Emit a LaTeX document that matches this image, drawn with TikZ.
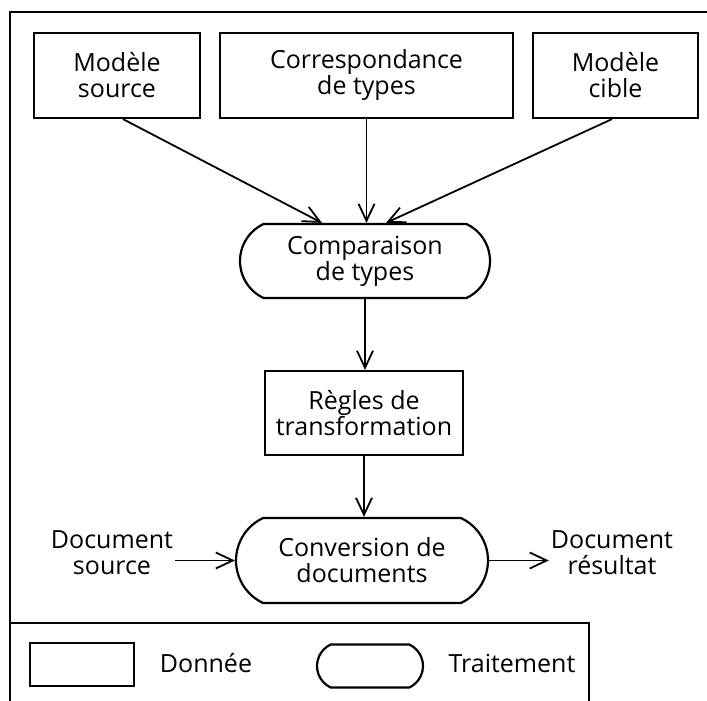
\documentclass[tikz,border=0pt]{standalone}
\usepackage{fontspec}
\setmainfont{Open Sans}
\usetikzlibrary{arrows.meta,shapes.misc}
\begin{document}
\begin{tikzpicture}[x=1pt,y=-1pt,
  every node/.style={font=\fontsize{25}{26}\selectfont, align=center, inner sep=0pt},
  datum/.style={draw, line width=2.2pt, rectangle},
  process/.style={draw, line width=2.2pt, rounded rectangle, rounded rectangle arc length=130},
  flow/.style={line width=1.8pt, -{Straight Barb[length=17pt,width=16pt,line width=1.8pt]}},
  frame/.style={line width=2.2pt}]
\useasboundingbox (0,0) rectangle (707,701);

% outer frame: top and left edges
\coordinate (ftl) at (10,12);
\coordinate (ftr) at (707,12);
\coordinate (fbl) at (10,701);
\draw[frame] (ftr) -- (ftl) -- (fbl);

% data and processing steps
\node[datum, minimum width=166pt, minimum height=85pt] (ms) at (117,75.5) {Modèle\\source};
\node[datum, minimum width=293pt, minimum height=85pt] (ct) at (366.5,75.5) {Correspondance\\de types};
\node[datum, minimum width=165pt, minimum height=85pt] (mc) at (615.5,75.5) {Modèle\\cible};
\node[process, minimum width=250pt, minimum height=74pt] (comp) at (365,261) {Comparaison\\de types};
\node[datum, minimum width=198pt, minimum height=84pt] (rt) at (364,413) {Règles de\\transformation};
\node[process, minimum width=252pt, minimum height=85pt] (conv) at (362,560.5) {Conversion de\\documents};
\node (ds) at (112,553) {Document\\source};
\node (dr) at (612,553) {Document\\résultat};

% flows
\draw[flow] ([xshift=6pt]ms.south) -- ([xshift=-43pt]comp.north);
\draw[flow] (ct.south) -- (ct.south |- comp.north);
\draw[flow] ([xshift=-3.5pt]mc.south) -- ([xshift=21pt]comp.north);
\draw[flow] (comp.south) -- (comp.south |- rt.north);
\draw[flow] (rt.south) -- (rt.south |- conv.north);
\draw[flow] ([xshift=2pt]ds.east |- conv.west) -- (conv.west);
\draw[flow] (conv.east) -- ([xshift=-2pt]dr.west |- conv.east);

% legend
\coordinate (ltl) at (10,623);
\coordinate (ltr) at (589,623);
\coordinate (lbr) at (589,701);
\draw[frame] (ltl) -- (ltr) -- (lbr);
\node[datum, minimum width=104pt, minimum height=43pt] (kd) at (82,664.5) {};
\node (kdt) at (206,663) {Donnée};
\node[process, minimum width=106pt, minimum height=43pt] (kp) at (370,666) {};
\node (kpt) at (512,663) {Traitement};
\end{tikzpicture}
\end{document}
